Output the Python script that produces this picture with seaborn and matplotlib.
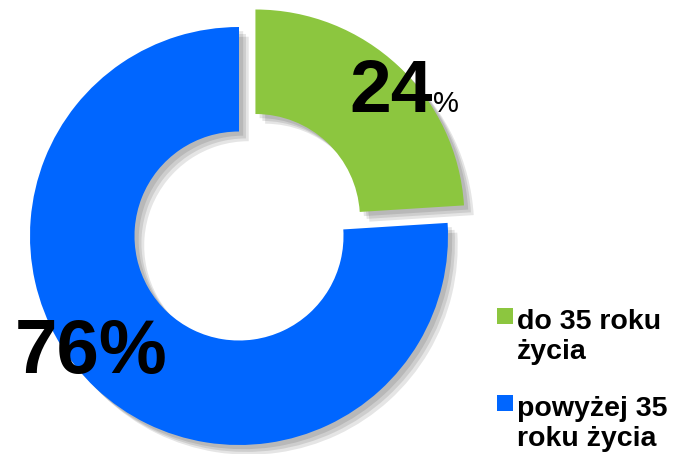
import matplotlib
matplotlib.use("Agg")
import matplotlib.pyplot as plt
import matplotlib.patheffects as pe
from matplotlib.patches import Patch, Rectangle
from matplotlib.legend_handler import HandlerPatch
import seaborn as sns

labels = ["do 35 roku\nżycia", "powyżej 35\nroku życia"]
values = [24, 76]
colors = ["#8CC63F", "#0066FF"]

sns.set_theme(style="white")
plt.rcParams['font.family'] = ['Liberation Sans', 'DejaVu Sans']
plt.rcParams['text.color'] = 'black'

W, H = 675, 454
fig = plt.figure(figsize=(W / 100, H / 100), dpi=100)
ax = fig.add_axes([0, 0, 1, 1])

R = 209
cx, cy = 239, H - 236
wedges, _ = ax.pie(values, colors=colors, startangle=90, counterclock=False,
                   radius=R, center=(cx, cy), explode=[24, 0],
                   wedgeprops=dict(width=R * 0.5, linewidth=0))
shadow = [pe.SimplePatchShadow(offset=(o, -o), alpha=0.10, shadow_rgbFace="black")
          for o in (7, 5, 3)]
for w in wedges:
    w.set_path_effects(shadow + [pe.Normal()])
ax.set_xlim(0, W)
ax.set_ylim(0, H)
ax.set_aspect("equal")
ax.axis("off")

# percentage labels
ax.text(391, H - 112, f"{values[0]}", fontsize=54, fontweight="bold",
        ha="center", va="baseline", color="black")
ax.text(433, H - 112, "%", fontsize=21, ha="left", va="baseline", color="black")
ax.text(91, H - 373, f"{values[1]}%", fontsize=55, fontweight="bold",
        ha="center", va="baseline", color="black")


class TopSquare(HandlerPatch):
    def create_artists(self, legend, orig_handle, xdescent, ydescent, width, height,
                       fontsize, trans):
        s = 0.56 * fontsize
        r = Rectangle((-xdescent, -ydescent + 0.79 * fontsize), s, s,
                      facecolor=orig_handle.get_facecolor(), edgecolor="none",
                      transform=trans)
        return [r]


handles = [Patch(facecolor=c, edgecolor="none") for c in colors]
leg = ax.legend(handles, labels, loc="upper left", bbox_to_anchor=(477 / W, 1 - 289 / H),
                frameon=False, handlelength=0.56, handleheight=0.6,
                handletextpad=0.15, labelspacing=1.08, borderpad=0.2,
                labelcolor="black",
                prop=dict(family="Liberation Sans", weight="bold", size=20.5),
                handler_map={Patch: TopSquare()})
for t in leg.get_texts():
    t.set_linespacing(1.22)
    t.set_color("black")

fig.savefig("out.png", dpi=100)
